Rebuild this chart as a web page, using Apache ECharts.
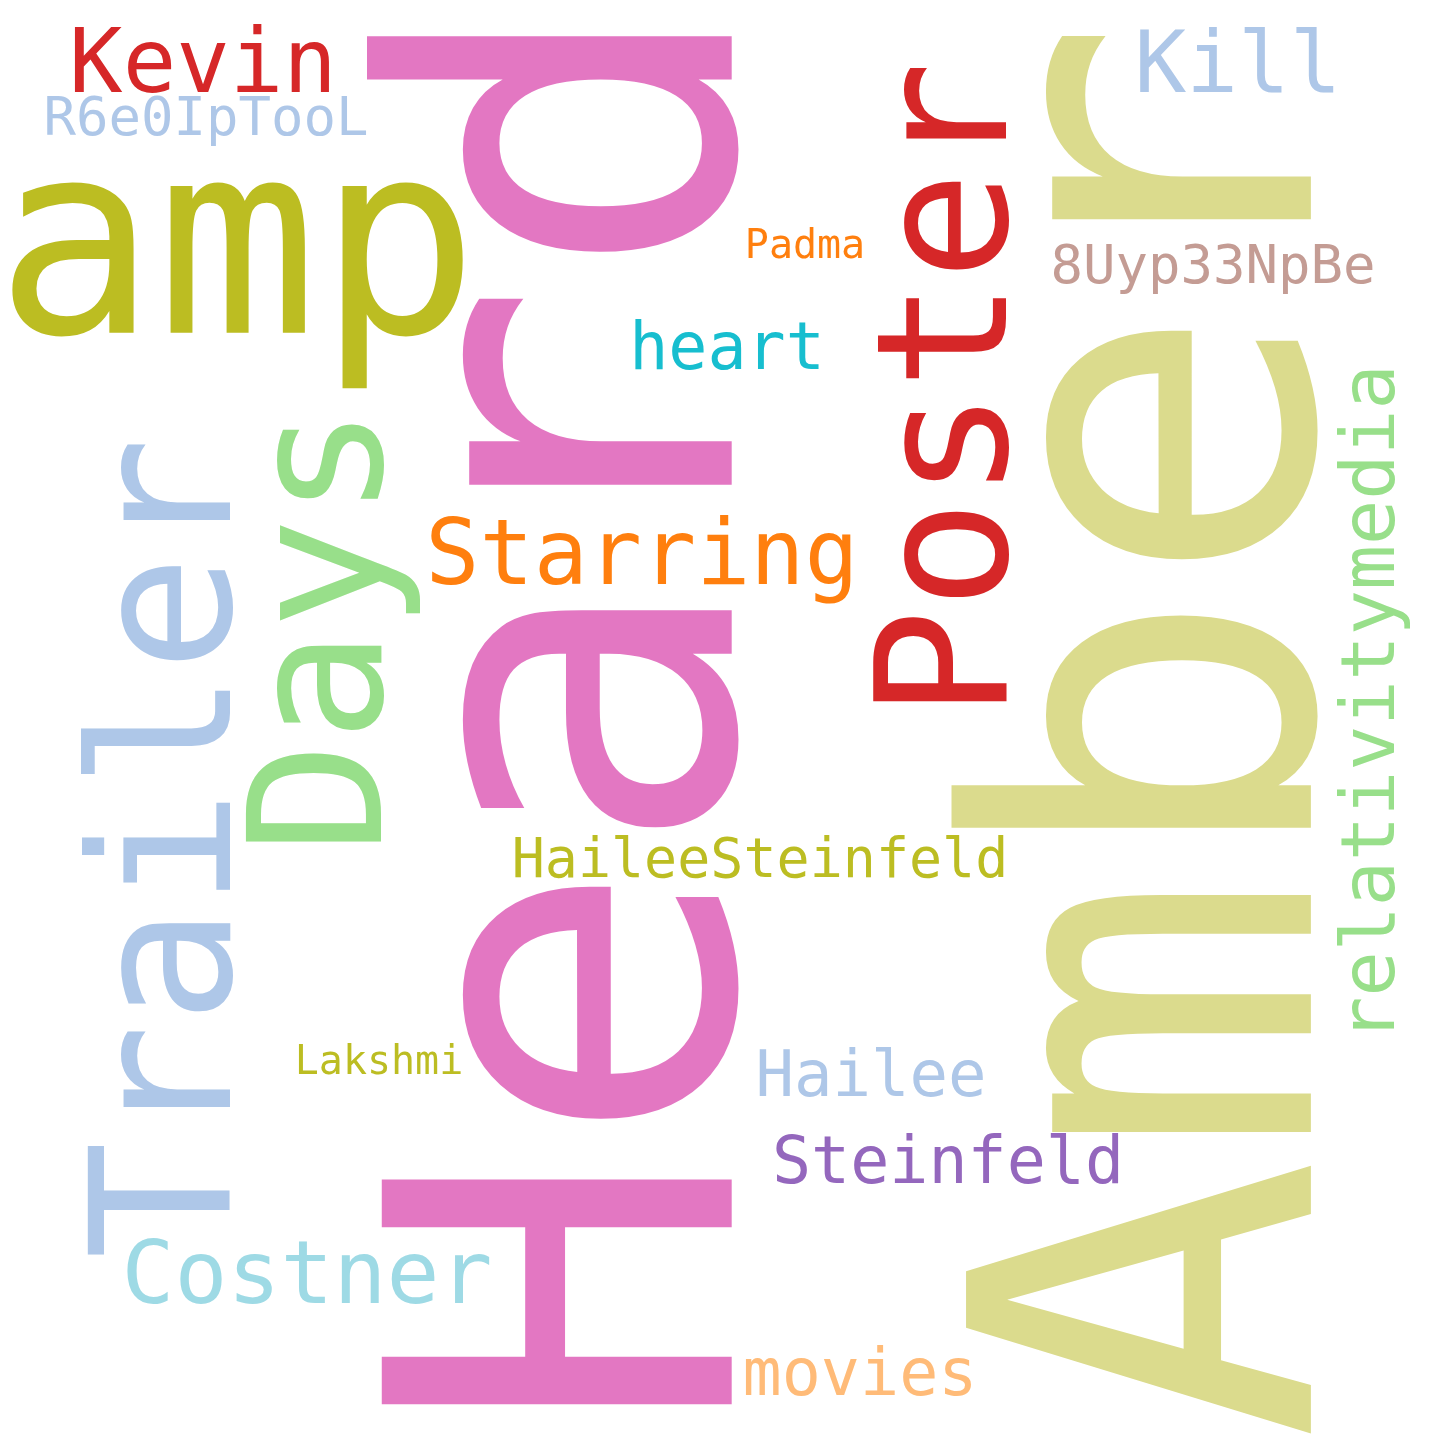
<!DOCTYPE html>
<html lang="en">
<head>
    <meta charset="UTF-8">
    <title>word cloud</title>
    <script src="https://cdn.jsdelivr.net/npm/echarts@6.0.0/dist/echarts.min.js"></script>
    <style type="text/css">
        body {
            margin: 0;
            padding: 0;
            background-color: #ffffff;
        }

        #chart {
            width: 1440px;
            height: 1440px;
        }
    </style>
</head>
<body>
<div id="chart"></div>

<script>
    // words and their weight (font size in px, as drawn in the picture)
    var words = ["Amber", "Heard", "amp", "Poster", "Days", "Trailer", "Starring", "Kevin", "Kill",
        "R6e0IpTooL", "Padma", "8Uyp33NpBe", "heart", "relativitymedia", "HaileeSteinfeld",
        "Lakshmi", "Hailee", "Steinfeld", "Costner", "movies"];
    var weights = [473, 480, 268, 182, 186, 195, 90, 89, 86,
        54, 40, 54, 65, 75, 55,
        40, 64, 65, 88, 65];

    // layout of the cloud: centre x, centre y, rotation, colour
    var posX = [1188, 607, 237, 959, 333, 179, 642, 203, 1238,
        206, 805, 1213, 727, 1375, 760,
        379, 871, 948, 307, 860];
    var posY = [730, 714, 263, 390, 630, 848, 561, 69, 70,
        121, 248, 269, 352, 703, 863,
        1064, 1079, 1166, 1280, 1378];
    var turns = [90, 90, 0, 90, 90, 90, 0, 0, 0,
        0, 0, 0, 0, 90, 0,
        0, 0, 0, 0, 0];
    var colors = ["#dbdb8d", "#e377c2", "#bcbd22", "#d62728", "#98df8a", "#aec7e8", "#ff7f0e", "#d62728", "#aec7e8",
        "#aec7e8", "#ff7f0e", "#c49c94", "#17becf", "#98df8a", "#bcbd22",
        "#bcbd22", "#aec7e8", "#9467bd", "#9edae5", "#ffbb78"];

    var chart = echarts.init(document.getElementById("chart"));

    var points = words.map(function (w, i) {
        return {
            name: w,
            value: [posX[i], posY[i]],
            label: {
                fontSize: weights[i],
                color: colors[i],
                rotate: turns[i]
            }
        };
    });

    chart.setOption({
        backgroundColor: "#ffffff",
        animation: false,
        grid: {left: 0, right: 0, top: 0, bottom: 0},
        xAxis: {type: "value", min: 0, max: 1440, show: false},
        yAxis: {type: "value", min: 0, max: 1440, inverse: true, show: false},
        series: [{
            type: "scatter",
            silent: true,
            symbolSize: 1,
            itemStyle: {color: "rgba(0,0,0,0)"},
            data: points,
            label: {
                show: true,
                opacity: 1,
                position: "inside",
                align: "center",
                verticalAlign: "middle",
                fontFamily: "DejaVu Sans Mono",
                formatter: function (p) {
                    return p.name;
                }
            }
        }]
    });
</script>
</body>
</html>
